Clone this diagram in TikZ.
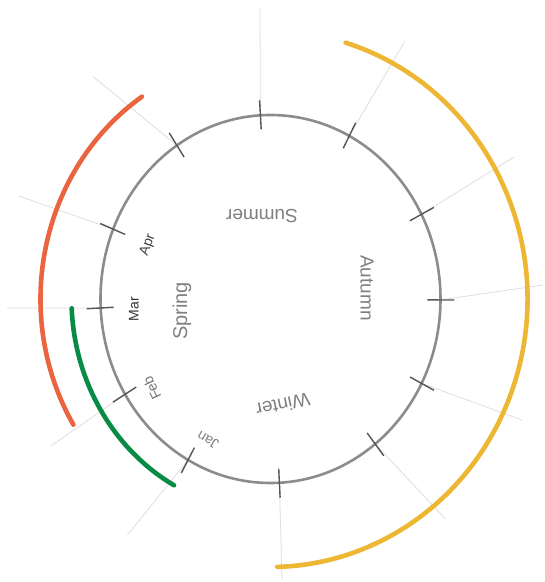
\documentclass[tikz,border=0pt]{standalone}
\usepackage{fontspec}
\setmainfont{Liberation Sans}
\usetikzlibrary{calc}
\definecolor{yel}{HTML}{EEB733}
\definecolor{redo}{HTML}{EA6440}
\definecolor{grn}{HTML}{078B45}
\definecolor{pencil}{HTML}{8C8C8C}
\definecolor{tickc}{HTML}{555555}
\tikzset{
  ring/.style={draw=pencil, line width=2.6pt},
  tickmark/.style={draw=tickc, line width=1.4pt},
  guide/.style={draw=black!13, line width=0.8pt},
  band/.style={line width=4.6pt, line cap=round},
  season/.style={text=black!50, font=\fontsize{19}{19}\selectfont, inner sep=0pt},
  month/.style={text=black!70, font=\fontsize{14}{14}\selectfont, inner sep=0pt}
}
\begin{document}
\begin{tikzpicture}[x=1pt,y=1pt]
\useasboundingbox (0,0) rectangle (545,582);
\coordinate (C) at (270.5,283);
% guide lines
\foreach \a/\ox/\oy [count=\i] in {93.4/260/574.5, 62.4/405/541, 27.4/514/425, -0.3/543/297, -27.3/522/162, -52/445.5/63, -87/282/2, -119/127.5/47, -148.8/51/136, -177.2/7/274, 157.7/19/386, 123.4/93/505.5}{
  \coordinate (g\i) at ($(C)+(\a:170pt and 184pt)$);
  \coordinate (o\i) at (\ox,\oy);
  \draw[guide] (g\i) -- (o\i);
}
% main ring
\draw[ring] (C) ellipse [x radius=170pt, y radius=184pt];
% ticks
\foreach \a [count=\i] in {93.4, 62.4, 27.4, -0.3, -27.3, -52, -87, -119, -148.8, -177.2, 157.7, 123.4}{
  \coordinate (ti\i) at ($(C)+(\a:157pt and 170pt)$);
  \coordinate (to\i) at ($(C)+(\a:184pt and 199pt)$);
  \draw[tickmark] (ti\i) -- (to\i);
}
% coloured bands
\coordinate (ys) at ($(C)+(73:257pt and 268pt)$);
\draw[band, draw=yel] (ys) arc[start angle=73, end angle=-88.5, x radius=257pt, y radius=268pt];
\coordinate (rs) at ($(C)+(124:230pt and 244pt)$);
\draw[band, draw=redo] (rs) arc[start angle=124, end angle=211, x radius=230pt, y radius=244pt];
\coordinate (gs) at ($(C)+(182.5:199pt and 213pt)$);
\draw[band, draw=grn] (gs) arc[start angle=182.5, end angle=241, x radius=199pt, y radius=213pt];
% labels
\node[season, rotate=180] (summer) at (262,366) {Summer};
\node[season, rotate=-90] (autumn) at (367,294) {Autumn};
\node[season, rotate=192] (winter) at (283,177) {Winter};
\node[season, rotate=90, font=\fontsize{20}{20}\selectfont] (spring) at (182,271) {Spring};
\node[month, rotate=90, text=black!80] (mar) at (134,273) {Mar};
\node[month, rotate=70, text=black!75] (apr) at (148,337) {Apr};
\node[month, rotate=115, text=black!55] (feb) at (152,194) {Feb};
\node[month, rotate=150, text=black!50] (jan) at (208,142) {Jan};
\end{tikzpicture}
\end{document}
